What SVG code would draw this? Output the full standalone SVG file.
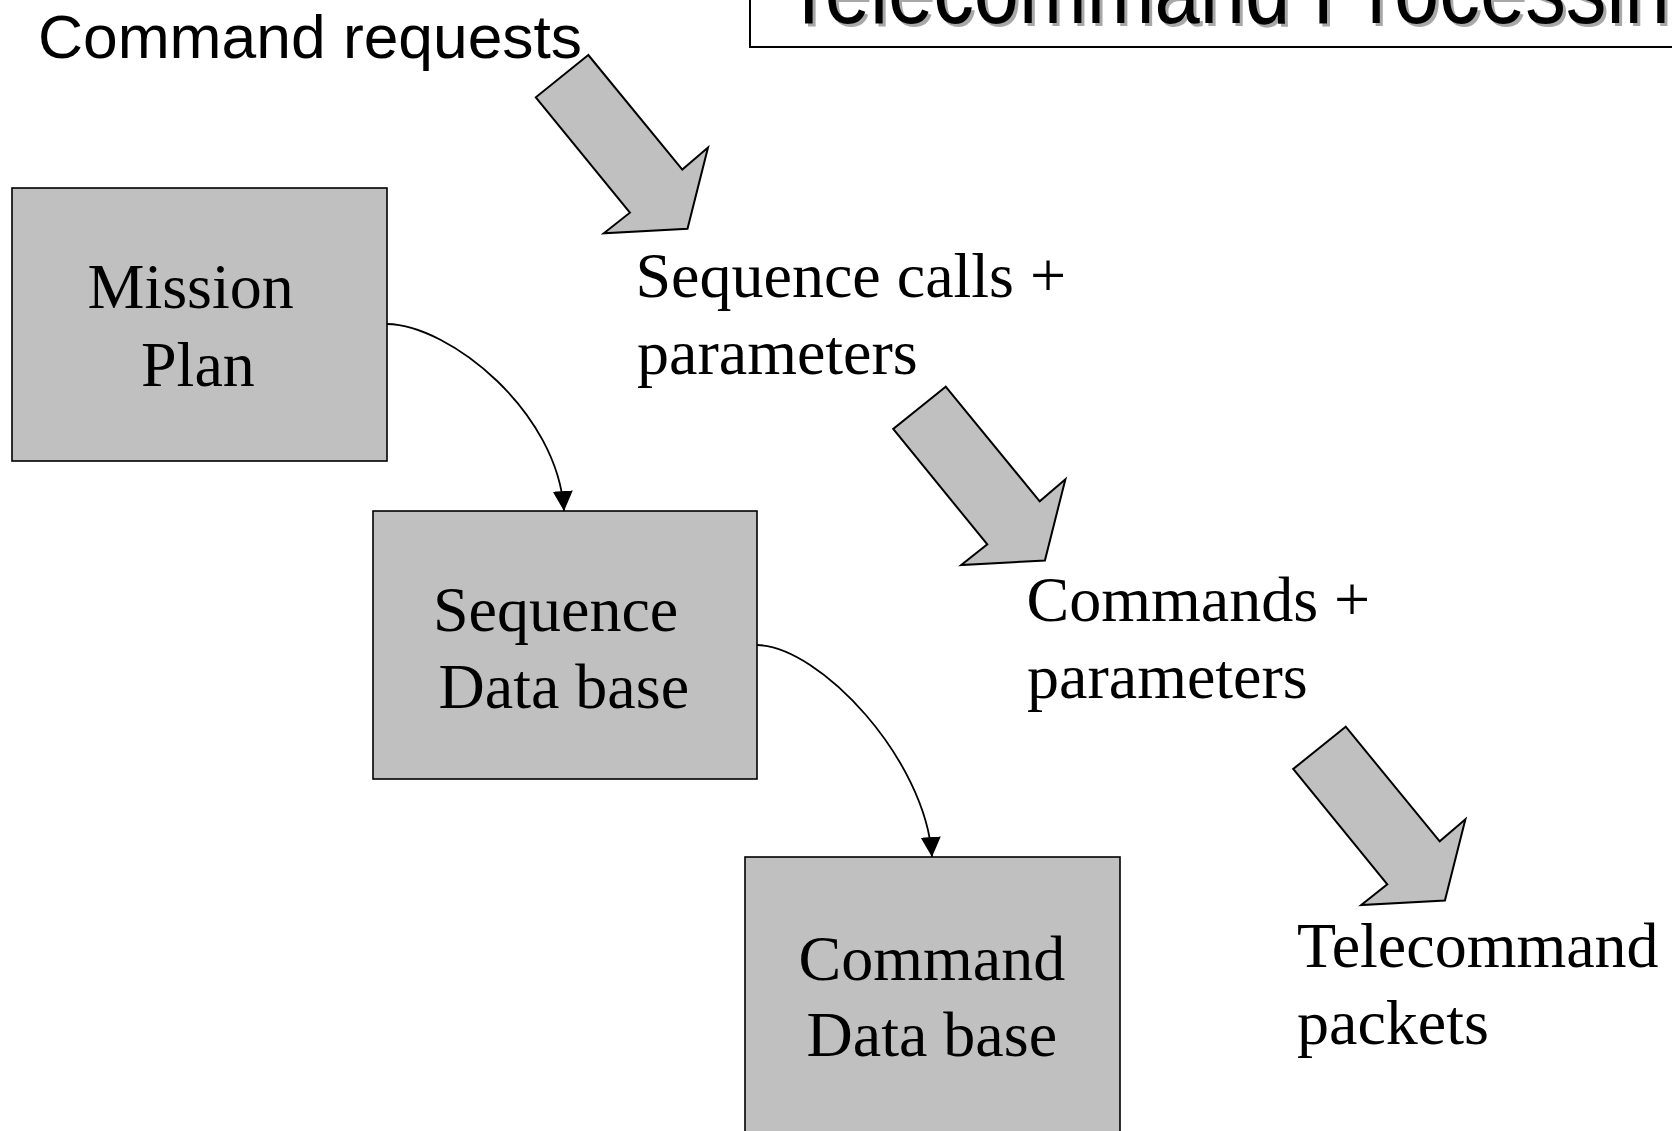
<svg xmlns="http://www.w3.org/2000/svg" width="1672" height="1131" viewBox="0 0 1672 1131">
  <style>
    .box { fill: #C0C0C0; stroke: #000; stroke-width: 1.6; }
    .blk { fill: #C0C0C0; stroke: #000; stroke-width: 2; stroke-linejoin: miter; }
    .lbl { font-family: "Liberation Serif", "Times New Roman", serif; font-size: 64px; fill: #000; }
    .sans { font-family: "Liberation Sans", Arial, sans-serif; fill: #000; }
    .conn { fill: none; stroke: #000; stroke-width: 1.8; }
  </style>
  <defs>
    <marker id="tip" markerUnits="userSpaceOnUse" markerWidth="22" markerHeight="22" viewBox="0 0 22 22" refX="20" refY="10" orient="auto">
      <path d="M0,0 L20,10 L0,20 Z" fill="#000"/>
    </marker>
    <!-- block arrow pointing down-right, origin at the top corner of the shaft -->
    <polygon id="bigArrow" class="blk" points="0,0 -52.5,42.3 41.6,157.7 15.5,178.3 99.2,173.8 119.7,92.5 94,114.6"/>
  </defs>

  <!-- title banner -->
  <g id="title">
    <rect x="750" y="-10" width="940" height="57" fill="#fff" stroke="#000" stroke-width="2"/>
    <text class="sans" x="787" y="26" font-size="98" textLength="931" lengthAdjust="spacingAndGlyphs" style="fill:#A8A8A8">Telecommand Processing</text>
    <text class="sans" x="784" y="23" font-size="98" textLength="931" lengthAdjust="spacingAndGlyphs">Telecommand Processing</text>
  </g>

  <!-- free labels -->
  <g id="label-command-requests">
    <text class="sans" x="38" y="58" font-size="62" textLength="544" lengthAdjust="spacingAndGlyphs">Command requests</text>
  </g>
  <g id="label-sequence-calls">
    <text class="lbl" x="635.5" y="297">Sequence calls +</text>
    <text class="lbl" x="637" y="374">parameters</text>
  </g>
  <g id="label-commands">
    <text class="lbl" x="1026.5" y="621">Commands +</text>
    <text class="lbl" x="1027" y="698">parameters</text>
  </g>
  <g id="label-telecommand">
    <text class="lbl" x="1297" y="967">Telecommand</text>
    <text class="lbl" x="1297" y="1044">packets</text>
  </g>

  <!-- flow arrows -->
  <g id="flow-arrows">
    <use href="#bigArrow" x="588.3" y="55"/>
    <use href="#bigArrow" x="945.7" y="386.7"/>
    <use href="#bigArrow" x="1345.7" y="726.7"/>
  </g>

  <!-- nodes -->
  <g id="mission-plan">
    <rect class="box" x="12" y="188" width="375" height="273"/>
    <text class="lbl" x="87.5" y="308">Mission</text>
    <text class="lbl" x="141" y="386">Plan</text>
  </g>
  <g id="sequence-db">
    <rect class="box" x="373" y="511" width="384" height="268"/>
    <text class="lbl" x="433" y="631">Sequence</text>
    <text class="lbl" x="438.5" y="708">Data base</text>
  </g>
  <g id="command-db">
    <rect class="box" x="745" y="857" width="375" height="290"/>
    <text class="lbl" x="798.5" y="980">Command</text>
    <text class="lbl" x="806.5" y="1056">Data base</text>
  </g>

  <!-- connectors -->
  <g id="connectors">
    <path class="conn" d="M387,324 C450,325 558,412 564,511" marker-end="url(#tip)"/>
    <path class="conn" d="M757,645 C820,646 926,760 932,857" marker-end="url(#tip)"/>
  </g>
</svg>
